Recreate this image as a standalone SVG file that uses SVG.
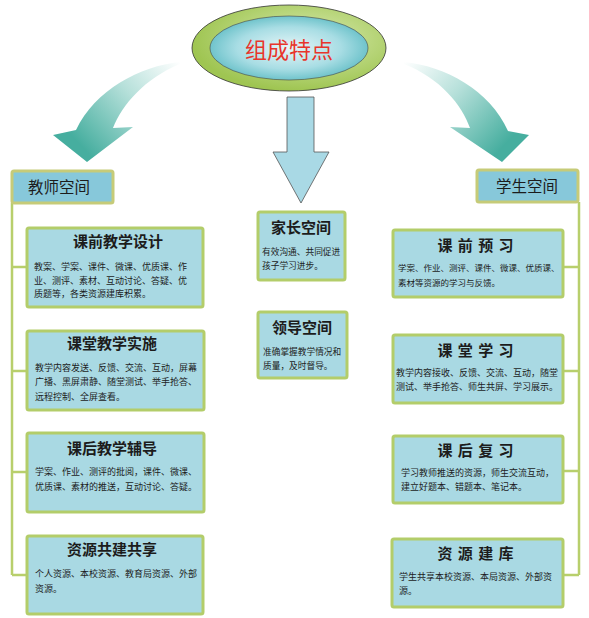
<svg xmlns="http://www.w3.org/2000/svg" width="589" height="618" viewBox="0 0 589 618">
<defs>
<style>
.box{fill:#a9d9e3;stroke:#b3cd6a;stroke-width:3}
.hdr{fill:#87c8da;stroke:#c6cb78;stroke-width:3}
.ln{stroke:#b8cf6c;stroke-width:2.5;fill:none}
.t{font-family:"Noto Sans CJK SC","Noto Sans",sans-serif;fill:#1c1c1c}
.ttl{font-size:15px;font-weight:bold;text-anchor:middle}
.hd{font-size:15.5px}
.bd{font-size:9px}
</style>
<linearGradient id="gL" gradientUnits="userSpaceOnUse" x1="180" y1="62" x2="85" y2="150">
<stop offset="0" stop-color="#ffffff"/><stop offset="0.45" stop-color="#b6e0da"/><stop offset="1" stop-color="#46ae9f"/>
</linearGradient>
<linearGradient id="gR" gradientUnits="userSpaceOnUse" x1="404" y1="62" x2="500" y2="150">
<stop offset="0" stop-color="#ffffff"/><stop offset="0.45" stop-color="#b6e0da"/><stop offset="1" stop-color="#46ae9f"/>
</linearGradient>
<radialGradient id="gO" cx="0.6" cy="0.4" r="0.6">
<stop offset="0" stop-color="#d9ebb0"/><stop offset="1" stop-color="#9fc552"/>
</radialGradient>
<radialGradient id="gI" cx="0.5" cy="0.5" r="0.55">
<stop offset="0" stop-color="#e6f6f8"/><stop offset="0.6" stop-color="#a8dde4"/><stop offset="1" stop-color="#5fbcc4"/>
</radialGradient>
</defs>
<rect width="589" height="618" fill="#ffffff"/>

<g id="connectors">
<path d="M180 62 C140 66 95 90 76 130 L53 135 L87 162 L133 127 L113 128 C122 105 145 78 180 64 Z" fill="url(#gL)"/>
<path d="M404 62 C445 66 490 90 508 131 L529 135 L502 162 L450 127 L470 128 C462 105 440 78 404 64 Z" fill="url(#gR)"/>
<path d="M287 97 L314 97 L314 152 L329 152 L301 203 L273 152 L287 152 Z" fill="#a9d9e5" stroke="#555" stroke-width="0.8"/>
<path class="ln" d="M12 203 V575 M12 267 H27 M12 371 H27 M12 472 H27 M12 575 H27"/>
<path class="ln" d="M579 202 V575 M579 267 H563 M579 371 H563 M579 471 H563 M579 575 H563"/>
</g>

<g id="center">
<ellipse cx="289" cy="48" rx="97" ry="43" fill="url(#gO)" stroke="#333" stroke-width="0.8"/>
<ellipse cx="289" cy="48" rx="79" ry="32" fill="url(#gI)" stroke="#444" stroke-width="0.6"/>
<text x="289" y="58" font-family="Noto Sans CJK SC,sans-serif" font-size="22" fill="#e8352b" text-anchor="middle">组成特点</text>
</g>

<g id="teacher-space">
<rect class="hdr" x="12" y="171" width="101" height="32" rx="2"/>
<text class="t hd" x="28" y="193">教师空间</text>
</g>

<g id="t1">
<rect class="box" x="27" y="228" width="176" height="79" rx="2"/>
<text class="t ttl" x="118" y="247">课前教学设计</text>
<text class="t bd" x="34" y="270">教案、学案、课件、微课、优质课、作</text>
<text class="t bd" x="34" y="283.5">业、测评、素材、互动讨论、答疑、优</text>
<text class="t bd" x="34" y="297">质题等，各类资源建库积累。</text>
</g>

<g id="t2">
<rect class="box" x="27" y="331" width="177" height="79" rx="2"/>
<text class="t ttl" x="112" y="349">课堂教学实施</text>
<text class="t bd" x="35" y="370.5">教学内容发送、反馈、交流、互动，屏幕</text>
<text class="t bd" x="35" y="385">广播、黑屏肃静、随堂测试、举手抢答、</text>
<text class="t bd" x="35" y="399.5">远程控制、全屏查看。</text>
</g>

<g id="t3">
<rect class="box" x="27" y="433" width="177" height="79" rx="2"/>
<text class="t ttl" x="112" y="454">课后教学辅导</text>
<text class="t bd" x="35" y="474.5">学案、作业、测评的批阅，课件、微课、</text>
<text class="t bd" x="35" y="489.5">优质课、素材的推送，互动讨论、答疑。</text>
</g>

<g id="t4">
<rect class="box" x="27" y="536" width="176" height="78" rx="2"/>
<text class="t ttl" x="112" y="555">资源共建共享</text>
<text class="t bd" x="35" y="576.5">个人资源、本校资源、教育局资源、外部</text>
<text class="t bd" x="35" y="591.5">资源。</text>
</g>

<g id="parent-space">
<rect class="box" x="258" y="212" width="87" height="68" rx="2"/>
<text class="t ttl" x="301" y="233" font-size="15.5">家长空间</text>
<text class="t" x="262" y="255" font-size="8.7">有效沟通、共同促进</text>
<text class="t" x="262" y="269" font-size="8.7">孩子学习进步。</text>
</g>

<g id="leader-space">
<rect class="box" x="258" y="312" width="89" height="66" rx="2"/>
<text class="t ttl" x="302" y="333" font-size="15.5">领导空间</text>
<text class="t" x="263" y="355" font-size="8.7">准确掌握教学情况和</text>
<text class="t" x="263" y="369" font-size="8.7">质量，及时督导。</text>
</g>

<g id="student-space">
<rect class="hdr" x="477" y="170" width="101" height="32" rx="2"/>
<text class="t hd" x="527" y="192" text-anchor="middle">学生空间</text>
</g>

<g id="s1">
<rect class="box" x="393" y="230" width="170" height="67" rx="2"/>
<text class="t ttl" x="476" y="251" letter-spacing="1">课 前 预 习</text>
<text class="t" x="398" y="271" font-size="8.5">学案、作业、测评、课件、微课、优质课、</text>
<text class="t" x="398" y="286" font-size="8.5">素材等资源的学习与反馈。</text>
</g>

<g id="s2">
<rect class="box" x="393" y="335" width="170" height="68" rx="2"/>
<text class="t ttl" x="476" y="356" letter-spacing="1">课 堂 学 习</text>
<text class="t bd" x="396" y="376">教学内容接收、反馈、交流、互动，随堂</text>
<text class="t bd" x="396" y="390">测试、举手抢答、师生共屏、学习展示。</text>
</g>

<g id="s3">
<rect class="box" x="393" y="436" width="170" height="67" rx="2"/>
<text class="t ttl" x="476" y="456" letter-spacing="1">课 后 复 习</text>
<text class="t bd" x="401" y="476">学习教师推送的资源，师生交流互动，</text>
<text class="t bd" x="401" y="490">建立好题本、错题本、笔记本。</text>
</g>

<g id="s4">
<rect class="box" x="392" y="539" width="171" height="68" rx="2"/>
<text class="t ttl" x="476" y="559" letter-spacing="1">资 源 建 库</text>
<text class="t bd" x="399" y="580">学生共享本校资源、本局资源、外部资</text>
<text class="t bd" x="399" y="594">源。</text>
</g>
</svg>
